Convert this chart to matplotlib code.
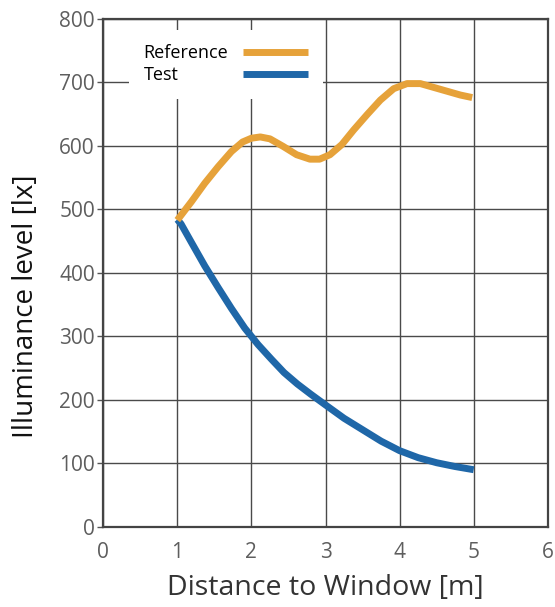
import matplotlib.pyplot as plt
import numpy as np

# distance to window [m] and illuminance level [lx]
ref_distance = [1.0, 1.19, 1.37, 1.55, 1.73, 1.88, 2.0, 2.12, 2.25, 2.43, 2.61, 2.79, 2.92,
                3.06, 3.22, 3.38, 3.56, 3.74, 3.92, 4.10, 4.28, 4.46, 4.64, 4.82, 4.98]
reference = [483, 512, 541, 567, 591, 606, 612, 614, 611, 599, 586, 579, 579,
             586, 602, 625, 649, 672, 690, 698, 698, 692, 686, 680, 676]

test_distance = [1.0, 1.05, 1.19, 1.37, 1.55, 1.73, 1.91, 2.09, 2.27, 2.44, 2.62,
                 2.80, 3.0, 3.25, 3.5, 3.75, 4.0, 4.25, 4.5, 4.75, 5.0]
test = [484, 477, 448, 411, 377, 344, 313, 287, 264, 243, 225,
        209, 192, 171, 153, 135, 120, 109, 101, 95, 90]

x_ticks = [0, 1, 2, 3, 4, 5, 6]
y_ticks = [0, 100, 200, 300, 400, 500, 600, 700, 800]

orange = '#E6A23A'
blue = '#1F67A8'

plt.rcParams['font.family'] = ['Open Sans', 'DejaVu Sans']

fig = plt.figure(figsize=(5.55, 6.07), dpi=100)
ax = fig.add_axes([0.186, 0.132, 0.801, 0.837])

ax.plot(test_distance, test, color=blue, lw=5, solid_capstyle='butt',
        solid_joinstyle='round', label='Test', zorder=3)
ax.plot(ref_distance, reference, color=orange, lw=5, solid_capstyle='butt',
        solid_joinstyle='round', label='Reference', zorder=4)

ax.set_xlim(0, 6)
ax.set_ylim(0, 800)
ax.set_xticks(x_ticks)
ax.set_yticks(y_ticks)
ax.grid(True, color='#4a4a4a', lw=1.0)
ax.set_axisbelow(True)

for s in ax.spines.values():
    s.set_color('#444444')
    s.set_linewidth(1.6)

ax.tick_params(axis='y', length=4, width=1, color='#555555', labelsize=15, labelcolor='#5e5e5e', pad=2)
ax.tick_params(axis='x', length=0, labelsize=15, labelcolor='#5e5e5e', pad=11)

ax.set_xlabel('Distance to Window [m]', fontsize=20.5, color='#333333', labelpad=8)
ax.set_ylabel('Illuminance level [lx]', fontsize=20, color='#111111', fontweight='medium')
ax.yaxis.set_label_coords(-0.142, 0.435)

# legend: label on the left, line on the right
handles, labels = ax.get_legend_handles_labels()
leg = ax.legend(handles[::-1], labels[::-1], loc='upper left', bbox_to_anchor=(0.058, 0.978),
                markerfirst=False, handlelength=3.6, handletextpad=1.0, fontsize=13,
                labelspacing=0.22, frameon=True, fancybox=False, borderpad=0.8, borderaxespad=0)
leg.get_frame().set_facecolor('white')
leg.get_frame().set_edgecolor('none')
leg.get_frame().set_alpha(1)
for row in leg._legend_handle_box.get_children()[0].get_children():
    row.mode = 'expand'
    row.width = 165

fig.savefig('out.png', dpi=100)
